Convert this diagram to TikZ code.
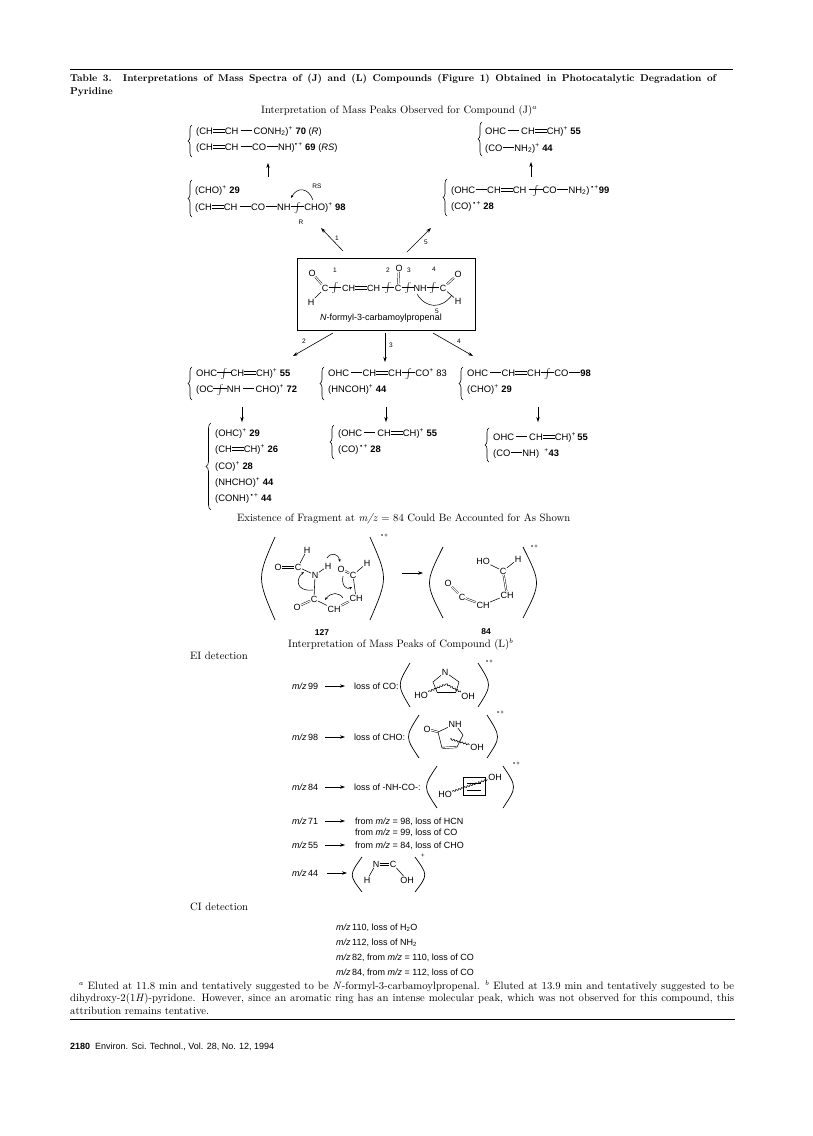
\documentclass[tikz,border=0pt]{standalone}
\usepackage{fontspec}
\usetikzlibrary{arrows.meta,decorations.pathreplacing,decorations.pathmorphing,shadows}
\newfontfamily\chemfont{Liberation Sans}
\newcommand{\sbd}{\kern.5pt\rule[3.1pt]{11pt}{.5pt}\kern.5pt}
\newcommand{\dbd}{\rlap{\rule[1.9pt]{12pt}{.5pt}}\rule[4.3pt]{12pt}{.5pt}}
\newcommand{\cutm}{\rule[.36em]{.72em}{.45pt}\makebox[0pt]{$\int$}\rule[.36em]{.72em}{.45pt}}
\newcommand{\rad}{\textsuperscript{\textbullet\,+}}
\newcommand{\pos}{\textsuperscript{+}}
\newcommand{\mz}{\textit{m/z}}
\tikzset{
  serif/.style={font=\fontsize{10.7}{12}\selectfont, inner sep=0pt, anchor=base west},
  capt/.style={serif, font=\fontsize{9.9}{12}\selectfont\bfseries},
  lbl/.style={font=\fontsize{9}{10}\selectfont\chemfont, inner sep=0pt, anchor=base west},
  grpl/.style={font=\fontsize{9.4}{10}\selectfont\chemfont, inner sep=0pt, anchor=base west},
  atom/.style={font=\fontsize{9}{10}\selectfont\chemfont, inner sep=.5pt},
  num/.style={font=\fontsize{6.5}{7}\selectfont\chemfont, inner sep=0pt},
  ident/.style={font=\fontsize{8.5}{9}\selectfont\chemfont\bfseries, inner sep=0pt, anchor=base},
  cutnode/.style={font=\fontsize{9}{10}\selectfont, inner sep=0pt},
  bond/.style={line width=.55pt},
  dbl/.style={double, double distance=1.1pt, line width=.45pt},
  rxn/.style={line width=.6pt, -{Stealth[length=5pt,width=3.4pt]}},
  rule/.style={line width=.8pt},
  grpbrace/.style={line width=.6pt, decorate, decoration={brace, amplitude=4pt}},
  bigbrace/.style={line width=.6pt, decorate, decoration={brace, amplitude=5pt}},
  pbrk/.style={line width=.7pt},
  curly/.style={line width=.55pt, -{Stealth[length=3pt,width=2.4pt]}},
  wavy/.style={line width=.55pt, decorate, decoration={snake, amplitude=.8pt, segment length=3pt}}
}
\begin{document}
\begin{tikzpicture}[x=1pt, y=-1pt]
    \useasboundingbox (0,0) rectangle (813,1136);

    % Caption
    \draw[rule] (70,69) -- (733,69);
    \node[capt] (capa) at (70,81) {\makebox[646pt][s]{Table 3.\ \ Interpretations of Mass Spectra of (J) and (L) Compounds (Figure 1) Obtained in Photocatalytic Degradation of}};
    \node[capt] (capb) at (70,94) {Pyridine};
    \node[serif] (hdj) at (261,113) {Interpretation of Mass Peaks Observed for Compound (J)$^a$};

    % Upper left groups
    \draw[grpbrace] (192,157) -- (192,125);
    \node[grpl] (gra) at (196,134) {(CH\dbd CH\,\sbd\,CONH\textsubscript{2})\pos\ \textbf{70} (\textit{R})};
    \node[grpl] (grb) at (196,150) {(CH\dbd CH\,\sbd CO\sbd NH)\rad\ \textbf{69} (\textit{RS})};
    \coordinate (upa) at (268,177);
    \coordinate (upb) at (268,163);
    \draw[rxn] (upa) -- (upb);
    \draw[grpbrace] (192,217) -- (192,180);
    \node[grpl] (grc) at (195,193) {(CHO)\pos\ \textbf{29}};
    \node[grpl] (grd) at (195,210) {(CH\dbd CH\,\sbd CO\sbd NH\cutm CHO)\pos\ \textbf{98}};
    \node[num] (rs) at (317,186) {RS};
    \node[num] (rr) at (301,222) {R};
    \draw[curly] (313,200) .. controls (308,187) and (297,187) .. (291,198);

    % Upper right groups
    \draw[grpbrace] (482,156) -- (482,122);
    \node[grpl] (gre) at (485,134) {OHC\,\sbd\,CH\dbd CH)\pos\ \textbf{55}};
    \node[grpl] (grf) at (485,151) {(CO\sbd NH\textsubscript{2})\pos\ \textbf{44}};
    \coordinate (upc) at (531,177);
    \coordinate (upd) at (531,162);
    \draw[rxn] (upc) -- (upd);
    \draw[grpbrace] (447,216) -- (447,179);
    \node[grpl] (grg) at (451,193) {(OHC\sbd CH\dbd CH\;\cutm CO\sbd NH\textsubscript{2})\,\rad\textbf{99}};
    \node[grpl] (grh) at (451,209) {(CO)\,\rad\ \textbf{28}};

    % Compound box
    \node[draw, fill=white, line width=.7pt, minimum width=178pt, minimum height=72pt, inner sep=0pt,
          drop shadow={shadow xshift=1.4pt, shadow yshift=-1.4pt, opacity=1, fill=black}] (cmpd) at (386,294) {};
    \node[atom] (oa) at (312,273) {O};
    \node[atom] (ca) at (325,288) {C};
    \node[atom] (ha) at (311,302) {H};
    \node[cutnode] (cut1) at (335,288) {\cutm};
    \node[atom] (chain) at (361,288) {CH\dbd CH};
    \node[cutnode] (cut2) at (388,288) {\cutm};
    \node[atom] (cb) at (398,288) {C};
    \node[atom] (ob) at (399,268) {O};
    \node[cutnode] (cut3) at (408,288) {\cutm};
    \node[atom] (nh) at (420,288) {NH};
    \node[cutnode] (cut4) at (433,288) {\cutm};
    \node[atom] (cc) at (443,288) {C};
    \node[atom] (oc) at (458,274) {O};
    \node[atom] (hc) at (458,301) {H};
    \node[num] (na) at (335,270) {1};
    \node[num] (nb) at (388,270) {2};
    \node[num] (nc) at (409,270) {3};
    \node[num] (nd) at (434,269) {4};
    \node[num] (ne) at (437,311) {5};
    \draw[dbl] (oa) -- (ca);
    \draw[bond] (ca) -- (ha);
    \draw[dbl] (cb) -- (ob);
    \draw[dbl] (cc) -- (oc);
    \draw[bond] (cc) -- (hc);
    \draw[line width=.55pt] (417,294) .. controls (426,309) and (442,309) .. (452,295);
    \node[lbl, anchor=center] (name) at (381,318) {\textit{N}-formyl-3-carbamoylpropenal};

    % Arrows from the box
    \coordinate (ba) at (343,251);
    \coordinate (bb) at (321,228);
    \coordinate (bc) at (407,252);
    \coordinate (bd) at (431,228);
    \coordinate (be) at (333,333);
    \coordinate (bf) at (293,356);
    \coordinate (bg) at (385,333);
    \coordinate (bh) at (385,362);
    \coordinate (bi) at (433,333);
    \coordinate (bj) at (473,356);
    \draw[rxn] (ba) -- (bb);
    \draw[rxn] (bc) -- (bd);
    \draw[rxn] (be) -- (bf);
    \draw[rxn] (bg) -- (bh);
    \draw[rxn] (bi) -- (bj);
    \node[num] (la) at (337,238) {1};
    \node[num] (lb) at (426,242) {5};
    \node[num] (lc) at (304,341) {2};
    \node[num] (ld) at (391,345) {3};
    \node[num] (le) at (459,341) {4};

    % Middle groups
    \draw[grpbrace] (192,400) -- (192,367);
    \node[grpl] (gri) at (196,376) {OHC\cutm CH\dbd CH)\pos\ \textbf{55}};
    \node[grpl] (grj) at (196,392) {(OC\cutm NH\,\sbd\,CHO)\pos\ \textbf{72}};
    \draw[grpbrace] (324,400) -- (324,367);
    \node[grpl] (grk) at (328,376) {OHC\,\sbd CH\dbd CH\cutm CO\pos\ 83};
    \node[grpl] (grl) at (328,392) {(HNCOH)\pos\ \textbf{44}};
    \draw[grpbrace] (463,400) -- (463,367);
    \node[grpl] (grm) at (467,376) {OHC\,\sbd CH\dbd CH\cutm CO\sbd\textbf{98}};
    \node[grpl] (grn) at (467,392) {(CHO)\pos\ \textbf{29}};

    % Down arrows
    \coordinate (dna) at (242,407);
    \coordinate (dnb) at (242,422);
    \coordinate (dnc) at (386,407);
    \coordinate (dnd) at (386,422);
    \coordinate (dne) at (538,407);
    \coordinate (dnf) at (538,422);
    \draw[rxn] (dna) -- (dnb);
    \draw[rxn] (dnc) -- (dnd);
    \draw[rxn] (dne) -- (dnf);

    % Lower groups
    \draw[bigbrace] (211,510) -- (211,423);
    \node[grpl] (gro) at (215,436) {(OHC)\pos\ \textbf{29}};
    \node[grpl] (grp) at (215,452) {(CH\dbd CH)\pos\ \textbf{26}};
    \node[grpl] (grq) at (215,469) {(CO)\pos\ \textbf{28}};
    \node[grpl] (grr) at (215,485) {(NHCHO)\pos\ \textbf{44}};
    \node[grpl] (grs) at (215,501) {(CONH)\,\rad\ \textbf{44}};
    \draw[grpbrace] (334,459) -- (334,425);
    \node[grpl] (grt) at (338,436) {(OHC\,\sbd\,CH\dbd CH)\pos\ \textbf{55}};
    \node[grpl] (gru) at (338,452) {(CO)\,\rad\ \textbf{28}};
    \draw[grpbrace] (489,462) -- (489,428);
    \node[grpl] (grv) at (493,440) {OHC\,\sbd\,CH\dbd CH)\pos\,\textbf{55}};
    \node[grpl] (grw) at (493,456) {(CO\sbd NH)\ \ \pos\textbf{43}};

    \node[serif] (hdf) at (237,521) {Existence of Fragment at \textit{m/z} = 84 Could Be Accounted for As Shown};

    % Fragment 127
    \draw[pbrk] (275,537) .. controls (257,578) .. (275,620);
    \draw[pbrk] (370,537) .. controls (388,578) .. (370,620);
    \node[lbl] (rada) at (381,541) {\rad};
    \node[atom] (oe) at (278,567) {O};
    \node[atom] (ce) at (298,567) {C};
    \node[atom] (he) at (307,550) {H};
    \node[atom] (ne2) at (315,575) {N};
    \node[atom] (hf) at (328,566) {H};
    \node[atom] (of) at (341,569) {O};
    \node[atom] (cf) at (353,575) {C};
    \node[atom] (hg) at (367,563) {H};
    \node[atom] (chf) at (356,598) {CH};
    \node[atom] (chg) at (334,609) {CH};
    \node[atom] (cg) at (314,599) {C};
    \node[atom] (og) at (297,607) {O};
    \draw[bond] ([yshift=1pt]oe.east) -- ([yshift=1pt]ce.west) ([yshift=-1pt]oe.east) -- ([yshift=-1pt]ce.west);
    \draw[bond] (ce) -- (he);
    \draw[bond] (ce) -- (ne2);
    \draw[bond] (ne2) -- (hf);
    \draw[bond] (ne2) -- (cg);
    \draw[dbl] (of) -- (cf);
    \draw[bond] (cf) -- (hg);
    \draw[bond] (cf) -- (chf);
    \draw[dbl] (chf) -- (chg);
    \draw[bond] (chg) -- (cg);
    \draw[dbl] (cg) -- (og);
    \draw[curly] (327,558) .. controls (331,552) and (338,553) .. (340,562);
    \draw[curly] (313,590) .. controls (295,592) and (296,578) .. (304,572);
    \draw[curly] (343,576) .. controls (341,586) and (347,590) .. (352,587);
    \draw[curly] (343,598) .. controls (339,592) and (331,592) .. (325,600);
    \node[ident] (ida) at (322,635) {127};

    % Arrow between fragments
    \coordinate (fra) at (402,573);
    \coordinate (frb) at (423,573);
    \draw[rxn] (fra) -- (frb);

    % Fragment 84
    \draw[pbrk] (443,547) .. controls (425,583) .. (443,618);
    \draw[pbrk] (523,547) .. controls (541,583) .. (523,618);
    \node[lbl] (radb) at (531,552) {\rad};
    \node[atom] (hoa) at (483,561) {HO};
    \node[atom] (hh) at (518,559) {H};
    \node[atom] (ch) at (503,571) {C};
    \node[atom] (chh) at (507,595) {CH};
    \node[atom] (chi) at (483,605) {CH};
    \node[atom] (ci) at (462,597) {C};
    \node[atom] (oh) at (448,583) {O};
    \draw[bond] (hoa) -- (ch);
    \draw[bond] (ch) -- (hh);
    \draw[dbl] (ch) -- (chh);
    \draw[bond] (chh) -- (chi);
    \draw[dbl] (chi) -- (ci);
    \draw[dbl] (ci) -- (oh);
    \node[ident] (idb) at (486,634) {84};

    \node[serif] (hdl) at (288,647) {Interpretation of Mass Peaks of Compound (L)$^b$};

    % EI detection
    \node[serif] (ei) at (190,659) {EI detection};
    \node[lbl] (mza) at (292,689) {\mz\,99};
    \node[lbl] (lsa) at (354,689) {loss of CO:};
    \node[lbl] (mzb) at (292,740) {\mz\,98};
    \node[lbl] (lsb) at (354,740) {loss of CHO:};
    \node[lbl] (mzc) at (292,790) {\mz\,84};
    \node[lbl] (lsc) at (354,790) {loss of -NH-CO-:};
    \node[lbl] (mzd) at (292,824) {\mz\,71};
    \node[lbl] (lsd) at (355,824) {from \mz\ = 98, loss of HCN};
    \node[lbl] (lse) at (355,835) {from \mz\ = 99, loss of CO};
    \node[lbl] (mze) at (292,848) {\mz\,55};
    \node[lbl] (lsf) at (355,848) {from \mz\ = 84, loss of CHO};
    \node[lbl] (mzf) at (292,876) {\mz\,44};
    \foreach \a/\yy in {mza/686, mzb/737, mzc/787, mzd/821, mze/845} {
        \coordinate (s\a) at (325,\yy);
        \coordinate (e\a) at (345,\yy);
        \draw[rxn] (s\a) -- (e\a);
    }
    \coordinate (smzf) at (327,873);
    \coordinate (emzf) at (347,873);
    \draw[rxn] (smzf) -- (emzf);

    % Ring for m/z 99
    \draw[pbrk] (410,663) .. controls (397,685) .. (410,707);
    \draw[pbrk] (478,663) .. controls (492,685) .. (478,707);
    \node[lbl] (radc) at (486,667) {\rad};
    \node[atom] (nr) at (445,672) {N};
    \node[atom] (hor) at (421,695) {HO};
    \node[atom] (ohr) at (468,696) {OH};
    \coordinate (ra) at (433,682);
    \coordinate (rb) at (437,692);
    \coordinate (rc) at (456,692);
    \coordinate (rd) at (459,682);
    \coordinate (re) at (446,684);
    \draw[bond] (nr) -- (ra) -- (rb);
    \draw[bond] (nr) -- (rd) -- (rc);
    \draw[bond] (rb) -- (rc);
    \draw[wavy] (hor) -- (re);
    \draw[wavy] (re) -- (ohr);

    % Ring for m/z 98
    \draw[pbrk] (419,715) .. controls (405,737) .. (419,758);
    \draw[pbrk] (487,715) .. controls (501,737) .. (487,758);
    \node[lbl] (radd) at (497,718) {\rad};
    \node[atom] (os) at (427,729) {O};
    \node[atom] (nhs) at (455,724) {NH};
    \node[atom] (ohs) at (477,747) {OH};
    \coordinate (sa) at (438,732);
    \coordinate (sb) at (463,735);
    \coordinate (sc) at (457,747);
    \coordinate (sd) at (442,748);
    \coordinate (se) at (450,739);
    \draw[dbl] (os) -- (sa);
    \draw[bond] (sa) -- (nhs);
    \draw[bond] (nhs) -- (sb) -- (sc);
    \draw[dbl] (sc) -- (sd);
    \draw[bond] (sd) -- (sa);
    \draw[wavy] (se) -- (ohs);

    % Ring for m/z 84
    \draw[pbrk] (437,766) .. controls (423,787) .. (437,808);
    \draw[pbrk] (503,766) .. controls (517,787) .. (503,808);
    \node[lbl] (rade) at (513,769) {\rad};
    \node[atom] (hot) at (445,794) {HO};
    \node[atom] (oht) at (495,777) {OH};
    \coordinate (ta) at (463,777);
    \coordinate (tb) at (485,795);
    \coordinate (tc) at (467,783);
    \coordinate (td) at (481,783);
    \coordinate (te) at (467,790);
    \coordinate (tf) at (481,790);
    \draw[bond] (ta) rectangle (tb);
    \draw[bond] (tc) -- (td);
    \draw[bond] (te) -- (tf);
    \draw[wavy] (hot) -- (oht);

    % N=C fragment
    \draw[pbrk] (362,857) .. controls (349,875) .. (362,892);
    \draw[pbrk] (415,857) .. controls (428,875) .. (415,892);
    \node[lbl] (radf) at (421,861) {\pos};
    \node[atom] (nu) at (376,864) {N};
    \node[atom] (cu) at (393,864) {C};
    \node[atom] (hu) at (367,880) {H};
    \node[atom] (ohu) at (407,880) {OH};
    \draw[bond] ([yshift=1pt]nu.east) -- ([yshift=1pt]cu.west) ([yshift=-1pt]nu.east) -- ([yshift=-1pt]cu.west);
    \draw[bond] (nu) -- (hu);
    \draw[bond] (cu) -- (ohu);

    % CI detection
    \node[serif] (cid2) at (190,910) {CI detection};
    \node[lbl] (cia) at (336,930) {\mz\,110, loss of H\textsubscript{2}O};
    \node[lbl] (cib) at (336,945) {\mz\,112, loss of NH\textsubscript{2}};
    \node[lbl] (cic) at (336,960) {\mz\,82, from \mz\ = 110, loss of CO};
    \node[lbl] (cid) at (336,975) {\mz\,84, from \mz\ = 112, loss of CO};

    % Footnote
    \node[serif] (fna) at (79,989) {\makebox[655pt][s]{$^a$ Eluted at 11.8 min and tentatively suggested to be \textit{N}-formyl-3-carbamoylpropenal. $^b$ Eluted at 13.9 min and tentatively suggested to be}};
    \node[serif] (fnb) at (70,1001) {\makebox[664pt][s]{dihydroxy-2(1\textit{H})-pyridone. However, since an aromatic ring has an intense molecular peak, which was not observed for this compound, this}};
    \node[serif] (fnc) at (70,1014) {attribution remains tentative.};
    \draw[rule] (70,1019) -- (735,1019);

    % Footer
    \node[lbl] (foot) at (70,1049) {\textbf{2180}\ \ Environ. Sci. Technol., Vol. 28, No. 12, 1994};
\end{tikzpicture}
\end{document}
